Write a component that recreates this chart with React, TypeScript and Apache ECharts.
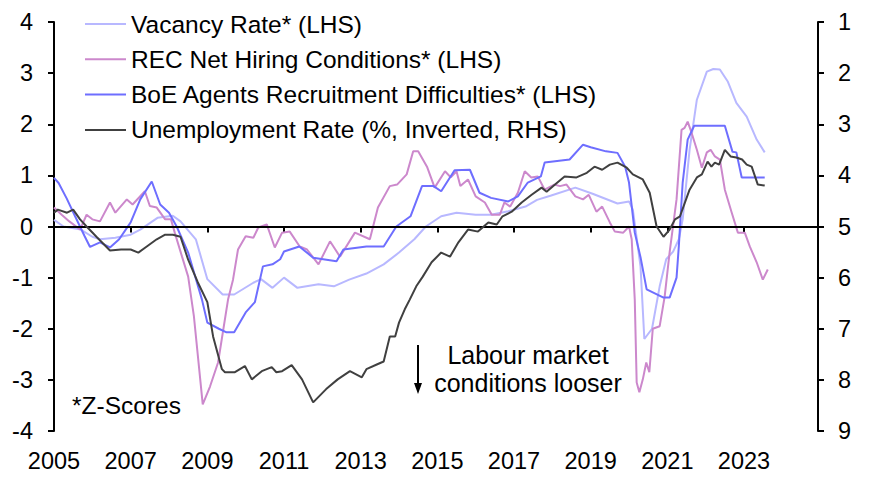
import React, { useEffect, useRef } from "react";
import * as echarts from "echarts";

// ---- Data (decimal years, values) ----
const vacancyYears = [2005.0, 2005.25, 2005.7, 2006.0, 2006.2, 2006.6, 2007.0, 2007.25, 2007.7, 2008.1, 2008.3, 2008.7, 2009.0, 2009.4, 2009.7, 2010.2, 2010.4, 2010.7, 2011.0, 2011.35, 2011.9, 2012.3, 2012.7, 2013.15, 2013.6, 2014.0, 2014.4, 2014.7, 2015.1, 2015.5, 2016.0, 2016.4, 2016.85, 2017.3, 2017.6, 2017.95, 2018.6, 2019.05, 2019.7, 2020.0, 2020.1, 2020.3, 2020.4, 2020.6, 2020.8, 2020.97, 2021.15, 2021.3, 2021.4, 2021.58, 2021.77, 2022.03, 2022.2, 2022.37, 2022.58, 2022.8, 2023.07, 2023.33, 2023.54];
const vacancyValues = [0.13, 0.0, -0.06, -0.2, -0.25, -0.22, -0.16, -0.06, 0.17, 0.21, 0.1, -0.25, -1.03, -1.33, -1.33, -1.1, -1.03, -1.2, -1.0, -1.2, -1.13, -1.17, -1.04, -0.92, -0.74, -0.51, -0.25, 0.0, 0.2, 0.27, 0.23, 0.23, 0.3, 0.39, 0.52, 0.6, 0.76, 0.64, 0.45, 0.49, 0.33, -0.78, -2.2, -2.0, -1.17, -0.64, -0.49, -0.25, 0.14, 1.5, 2.48, 3.03, 3.08, 3.07, 2.83, 2.42, 2.15, 1.7, 1.45];

const recYears = [2005.0, 2005.2, 2005.4, 2005.68, 2005.85, 2006.0, 2006.2, 2006.46, 2006.6, 2006.9, 2007.05, 2007.37, 2007.5, 2007.68, 2007.9, 2008.05, 2008.15, 2008.34, 2008.5, 2008.65, 2008.88, 2009.07, 2009.28, 2009.54, 2009.67, 2009.8, 2010.0, 2010.2, 2010.33, 2010.55, 2010.76, 2010.95, 2011.15, 2011.41, 2011.6, 2011.9, 2012.2, 2012.46, 2012.85, 2013.24, 2013.45, 2013.76, 2013.95, 2014.2, 2014.37, 2014.5, 2014.73, 2014.93, 2015.2, 2015.35, 2015.5, 2015.6, 2015.8, 2016.0, 2016.24, 2016.42, 2016.63, 2016.75, 2016.9, 2017.1, 2017.28, 2017.45, 2017.62, 2017.8, 2018.05, 2018.2, 2018.37, 2018.6, 2018.8, 2018.95, 2019.15, 2019.3, 2019.5, 2019.63, 2019.85, 2020.0, 2020.07, 2020.15, 2020.2, 2020.27, 2020.36, 2020.45, 2020.53, 2020.62, 2020.8, 2020.93, 2021.06, 2021.24, 2021.37, 2021.45, 2021.53, 2021.63, 2021.77, 2021.9, 2022.03, 2022.13, 2022.24, 2022.37, 2022.5, 2022.68, 2022.84, 2023.02, 2023.15, 2023.33, 2023.49, 2023.62];
const recValues = [0.37, 0.23, 0.1, -0.06, 0.23, 0.14, 0.1, 0.47, 0.27, 0.53, 0.43, 0.69, 0.4, 0.37, 0.14, 0.14, -0.12, -0.59, -0.98, -1.76, -3.48, -3.13, -2.66, -1.43, -1.04, -0.45, -0.19, -0.22, -0.02, 0.04, -0.41, -0.12, -0.1, -0.39, -0.45, -0.74, -0.29, -0.59, -0.12, -0.25, 0.37, 0.79, 0.82, 1.02, 1.47, 1.47, 1.17, 0.76, 1.08, 0.96, 1.08, 0.79, 0.92, 0.59, 0.47, 0.23, 0.23, 0.47, 0.39, 0.66, 1.08, 0.96, 0.98, 0.72, 0.82, 0.79, 0.82, 0.59, 0.53, 0.62, 0.29, 0.39, 0.08, -0.1, -0.12, 0.0, -0.25, -1.43, -3.05, -3.24, -2.99, -2.66, -2.85, -2.0, -1.95, -1.37, -0.5, 0.53, 1.89, 1.93, 2.05, 1.84, 1.5, 1.15, 1.45, 1.5, 1.37, 1.31, 0.72, 0.27, -0.12, -0.12, -0.39, -0.7, -1.04, -0.84];

const boeYears = [2005.0, 2005.12, 2005.33, 2005.55, 2005.8, 2005.94, 2006.2, 2006.46, 2006.7, 2007.0, 2007.25, 2007.55, 2007.77, 2008.0, 2008.2, 2008.5, 2008.86, 2009.0, 2009.3, 2009.5, 2009.7, 2010.0, 2010.24, 2010.45, 2010.7, 2010.9, 2011.0, 2011.4, 2011.76, 2012.37, 2012.55, 2013.15, 2013.6, 2013.93, 2014.3, 2014.6, 2014.9, 2015.1, 2015.45, 2015.85, 2016.1, 2016.4, 2016.85, 2017.1, 2017.36, 2017.7, 2017.8, 2018.45, 2018.8, 2019.0, 2019.4, 2019.7, 2019.9, 2020.0, 2020.15, 2020.3, 2020.46, 2020.9, 2021.06, 2021.24, 2021.3, 2021.4, 2021.53, 2021.7, 2022.5, 2022.7, 2022.8, 2022.94, 2023.54];
const boeValues = [0.95, 0.85, 0.55, 0.2, -0.19, -0.4, -0.31, -0.41, -0.25, 0.08, 0.53, 0.88, 0.43, 0.27, 0.0, -0.51, -1.43, -1.88, -2.0, -2.07, -2.07, -1.68, -1.48, -0.78, -0.74, -0.64, -0.49, -0.39, -0.61, -0.68, -0.45, -0.39, -0.39, 0.0, 0.2, 0.79, 0.79, 0.69, 1.1, 1.11, 0.66, 0.56, 0.49, 0.59, 0.86, 0.98, 1.25, 1.31, 1.6, 1.55, 1.47, 1.44, 1.17, 0.86, -0.12, -0.6, -1.23, -1.39, -1.39, -1.0, -0.38, 0.86, 1.7, 1.97, 1.97, 1.46, 1.45, 0.96, 0.96];

const unempYears = [2005.0, 2005.1, 2005.34, 2005.5, 2005.68, 2005.85, 2006.12, 2006.46, 2006.75, 2007.0, 2007.2, 2007.42, 2007.68, 2007.9, 2008.1, 2008.3, 2008.5, 2008.75, 2009.0, 2009.15, 2009.38, 2009.46, 2009.72, 2009.98, 2010.16, 2010.42, 2010.68, 2010.8, 2010.95, 2011.2, 2011.47, 2011.76, 2012.1, 2012.4, 2012.72, 2013.03, 2013.15, 2013.42, 2013.6, 2013.76, 2013.9, 2014.0, 2014.15, 2014.28, 2014.45, 2014.62, 2014.85, 2015.1, 2015.33, 2015.55, 2015.8, 2016.06, 2016.33, 2016.55, 2016.7, 2016.94, 2017.2, 2017.46, 2017.72, 2017.85, 2018.07, 2018.32, 2018.63, 2018.9, 2019.1, 2019.3, 2019.5, 2019.7, 2019.94, 2020.1, 2020.36, 2020.54, 2020.72, 2020.9, 2021.06, 2021.2, 2021.33, 2021.58, 2021.77, 2021.9, 2022.05, 2022.15, 2022.24, 2022.35, 2022.5, 2022.65, 2022.8, 2022.95, 2023.07, 2023.2, 2023.36, 2023.54];
const unempValues = [4.73, 4.67, 4.73, 4.67, 4.86, 5.0, 5.21, 5.47, 5.45, 5.45, 5.51, 5.39, 5.25, 5.16, 5.16, 5.2, 5.65, 6.09, 6.48, 7.15, 7.79, 7.85, 7.85, 7.73, 7.99, 7.83, 7.75, 7.85, 7.83, 7.71, 7.99, 8.44, 8.18, 7.99, 7.83, 7.95, 7.79, 7.7, 7.64, 7.15, 7.15, 6.88, 6.62, 6.43, 6.17, 5.98, 5.7, 5.51, 5.59, 5.31, 5.06, 5.1, 4.92, 4.96, 4.8, 4.71, 4.53, 4.38, 4.24, 4.32, 4.18, 4.02, 4.04, 3.95, 3.83, 3.89, 3.79, 3.75, 3.85, 3.98, 4.08, 4.34, 5.0, 5.2, 5.06, 4.86, 4.8, 4.28, 4.04, 3.98, 3.73, 3.83, 3.75, 3.79, 3.5, 3.63, 3.65, 3.69, 3.79, 3.83, 4.18, 4.2];

const seriesNames = [
  "Vacancy Rate* (LHS)",
  "REC Net Hiring Conditions* (LHS)",
  "BoE Agents Recruitment Difficulties* (LHS)",
  "Unemployment Rate (%, Inverted, RHS)",
];
const seriesColors = ["#b8b8ff", "#cc88cc", "#6e6eff", "#404040"];

const BASE_YEAR = 2005;
const leftTicks = { min: -4, max: 4, interval: 1 };
const rightTicks = { min: 1, max: 9, interval: 1 };

const FONT = "'Liberation Sans', Arial, sans-serif";

function pairs(years: number[], values: number[]) {
  return years.map((y, i) => [y - BASE_YEAR, values[i]]);
}

export default function App() {
  const ref = useRef<HTMLDivElement>(null);

  useEffect(() => {
    if (!ref.current) return;
    const chart = echarts.init(ref.current, undefined, { renderer: "svg" });

    const mk = (i: number, data: number[][], yAxisIndex: number, extra: any = {}) => ({
      name: seriesNames[i],
      type: "line",
      data,
      yAxisIndex,
      symbol: "none",
      showSymbol: false,
      smooth: false,
      lineStyle: { color: seriesColors[i], width: 2 },
      itemStyle: { color: seriesColors[i] },
      z: 2 + i,
      ...extra,
    });

    const option: any = {
      animation: false,
      backgroundColor: "#ffffff",
      textStyle: { fontFamily: FONT },
      grid: { left: 54, right: 60, top: 22, bottom: 59, containLabel: false },
      legend: {
        orient: "vertical",
        left: 85,
        top: 11,
        padding: 0,
        itemWidth: 41,
        itemHeight: 2,
        itemGap: 9.3,
        icon: "rect",
        data: seriesNames,
        selectedMode: false,
        textStyle: { fontSize: 24.5, color: "#000", fontFamily: FONT, lineHeight: 26, padding: [0, 0, 0, 0] },
      },
      xAxis: {
        type: "value",
        min: 0,
        max: 19.93,
        interval: 2,
        axisLine: { show: true, lineStyle: { color: "#000", width: 2 } },
        axisTick: { show: true, length: 6, lineStyle: { color: "#000", width: 2 } },
        axisLabel: {
          fontSize: 23.5,
          color: "#000",
          fontFamily: FONT,
          margin: 18,
          formatter: (v: number) => (v > 19 ? "" : String(BASE_YEAR + v)),
        },
        splitLine: { show: false },
      },
      yAxis: [
        {
          type: "value",
          position: "left",
          ...leftTicks,
          axisLine: { show: true, lineStyle: { color: "#000", width: 2 } },
          axisTick: { show: true, length: 6, lineStyle: { color: "#000", width: 2 } },
          axisLabel: { fontSize: 23.5, color: "#000", fontFamily: FONT, margin: 21 },
          splitLine: { show: false },
        },
        {
          type: "value",
          position: "right",
          inverse: true,
          ...rightTicks,
          axisLine: { show: true, lineStyle: { color: "#000", width: 2 } },
          axisTick: { show: true, length: 6, lineStyle: { color: "#000", width: 2 } },
          axisLabel: { fontSize: 23.5, color: "#000", fontFamily: FONT, margin: 20 },
          splitLine: { show: false },
        },
      ],
      series: [
        mk(0, pairs(vacancyYears, vacancyValues), 0, {
          markLine: {
            silent: true,
            symbol: "none",
            label: { show: false },
            lineStyle: { color: "#000", width: 2, type: "solid" },
            data: [{ yAxis: 0 }],
          },
        }),
        mk(1, pairs(recYears, recValues), 0),
        mk(2, pairs(boeYears, boeValues), 0),
        mk(3, pairs(unempYears, unempValues), 1),
      ],
      graphic: [
        {
          type: "text",
          left: 72,
          top: 393,
          style: { text: "*Z-Scores", fontSize: 24.5, fill: "#000", font: `24.5px ${FONT}` },
        },
        {
          type: "text",
          x: 528,
          y: 355,
          style: {
            text: "Labour market",
            fill: "#000",
            font: `25px ${FONT}`,
            textAlign: "center",
            textVerticalAlign: "middle",
          },
        },
        {
          type: "text",
          x: 528,
          y: 383,
          style: {
            text: "conditions looser",
            fill: "#000",
            font: `25px ${FONT}`,
            textAlign: "center",
            textVerticalAlign: "middle",
          },
        },
        {
          type: "line",
          shape: { x1: 418, y1: 345, x2: 418, y2: 386 },
          style: { stroke: "#000", lineWidth: 2 },
        },
        {
          type: "polygon",
          shape: { points: [[414, 383], [422, 383], [418, 394]] },
          style: { fill: "#000" },
        },
      ],
    };

    chart.setOption(option);
    return () => chart.dispose();
  }, []);

  return (
    <div
      ref={ref}
      style={{ position: "fixed", left: 0, top: 0, width: 878, height: 490, background: "#fff" }}
    />
  );
}
